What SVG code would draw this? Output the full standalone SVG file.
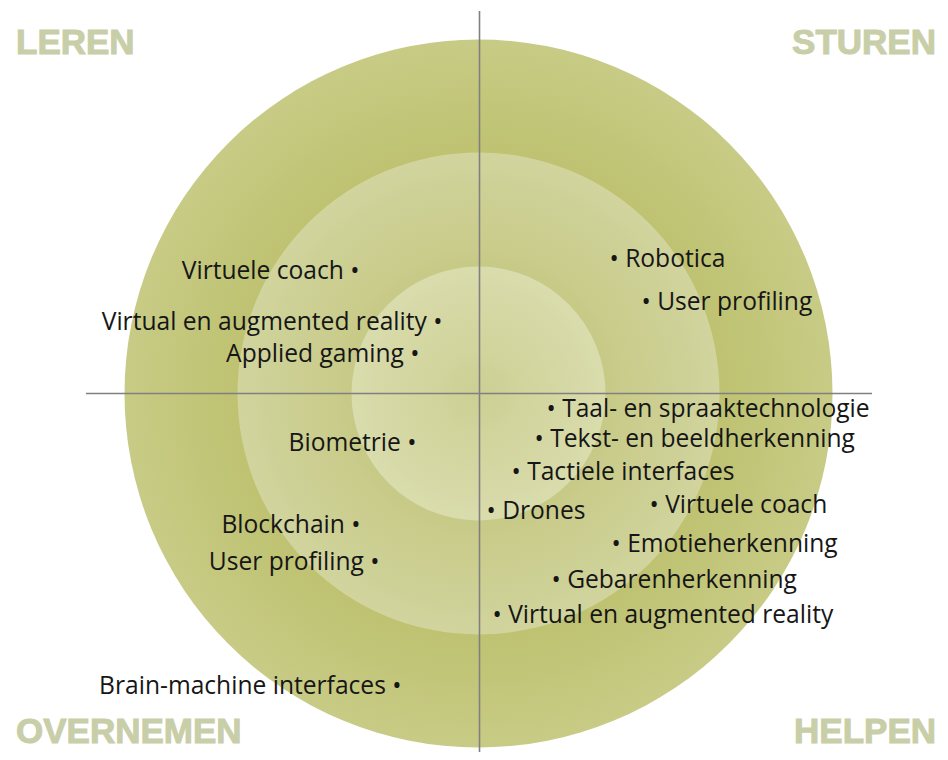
<svg xmlns="http://www.w3.org/2000/svg" width="948" height="760" viewBox="0 0 948 760">
  <defs>
    <radialGradient id="gOuter" cx="478.5" cy="393.5" r="354" gradientUnits="userSpaceOnUse">
      <stop offset="0" stop-color="#b8bc68"/>
      <stop offset="0.68" stop-color="#bec271"/>
      <stop offset="1" stop-color="#c8cb85"/>
    </radialGradient>
    <radialGradient id="gMiddle" cx="478.5" cy="393.5" r="241" gradientUnits="userSpaceOnUse">
      <stop offset="0" stop-color="#c2c57c"/>
      <stop offset="0.52" stop-color="#c7ca86"/>
      <stop offset="1" stop-color="#d1d49d"/>
    </radialGradient>
    <radialGradient id="gInner" cx="478.5" cy="393.5" r="127" gradientUnits="userSpaceOnUse">
      <stop offset="0" stop-color="#cdd093"/>
      <stop offset="1" stop-color="#d9dcac"/>
    </radialGradient>
  </defs>
  <style>
    .title { font-family: "Liberation Sans", Arial, sans-serif; font-weight: bold; font-size: 35px; fill: #c8cea8; stroke: #c8cea8; stroke-width: 1; }
    .item { font-family: "Open Sans", "Liberation Sans", sans-serif; font-size: 24.6px; fill: #161616; }
    .axis { stroke: #808080; stroke-width: 1.6; fill: none; }
  </style>
  <rect width="948" height="760" fill="#ffffff"/>
  <g id="rings">
    <circle cx="478.5" cy="393.5" r="354" fill="url(#gOuter)"/>
    <circle cx="478.5" cy="393.5" r="241" fill="url(#gMiddle)"/>
    <circle cx="478.5" cy="393.5" r="127" fill="url(#gInner)"/>
  </g>
  <g id="connectors">
    <line class="axis" x1="479.5" y1="11" x2="479.5" y2="752"/>
    <line class="axis" x1="86" y1="393.5" x2="872" y2="393.5"/>
  </g>
  <g id="quadrant-titles">
    <g id="t-leren"><text class="title" x="16" y="54">LEREN</text></g>
    <g id="t-sturen"><text class="title" x="936" y="54" text-anchor="end">STUREN</text></g>
    <g id="t-overnemen"><text class="title" x="16" y="743">OVERNEMEN</text></g>
    <g id="t-helpen"><text class="title" x="936" y="743" text-anchor="end">HELPEN</text></g>
  </g>
  <g id="leren-items">
    <g id="l-virtuele-coach"><text class="item" x="359.5" y="279" text-anchor="end">Virtuele coach •</text></g>
    <g id="l-virtual-ar"><text class="item" x="442.5" y="330" text-anchor="end">Virtual en augmented reality •</text></g>
    <g id="l-applied-gaming"><text class="item" x="419.5" y="362" text-anchor="end">Applied gaming •</text></g>
  </g>
  <g id="overnemen-items">
    <g id="o-biometrie"><text class="item" x="416.5" y="451" text-anchor="end">Biometrie •</text></g>
    <g id="o-blockchain"><text class="item" x="360.5" y="533" text-anchor="end">Blockchain •</text></g>
    <g id="o-user-profiling"><text class="item" x="379.5" y="570" text-anchor="end">User profiling •</text></g>
    <g id="o-bmi"><text class="item" x="401.5" y="694" text-anchor="end">Brain-machine interfaces •</text></g>
  </g>
  <g id="sturen-items">
    <g id="s-robotica"><text class="item" x="609.5" y="267">• Robotica</text></g>
    <g id="s-user-profiling"><text class="item" x="641.5" y="310">• User profiling</text></g>
  </g>
  <g id="helpen-items">
    <g id="h-taal"><text class="item" x="546.5" y="417">• Taal- en spraaktechnologie</text></g>
    <g id="h-tekst"><text class="item" x="534.5" y="447">• Tekst- en beeldherkenning</text></g>
    <g id="h-tactiele"><text class="item" x="511.5" y="480">• Tactiele interfaces</text></g>
    <g id="h-drones"><text class="item" x="486.5" y="519">• Drones</text></g>
    <g id="h-virtuele-coach"><text class="item" x="649.5" y="513">• Virtuele coach</text></g>
    <g id="h-emotie"><text class="item" x="611.5" y="552">• Emotieherkenning</text></g>
    <g id="h-gebaren"><text class="item" x="551.5" y="588">• Gebarenherkenning</text></g>
    <g id="h-virtual-ar"><text class="item" x="492.5" y="623">• Virtual en augmented reality</text></g>
  </g>
</svg>
